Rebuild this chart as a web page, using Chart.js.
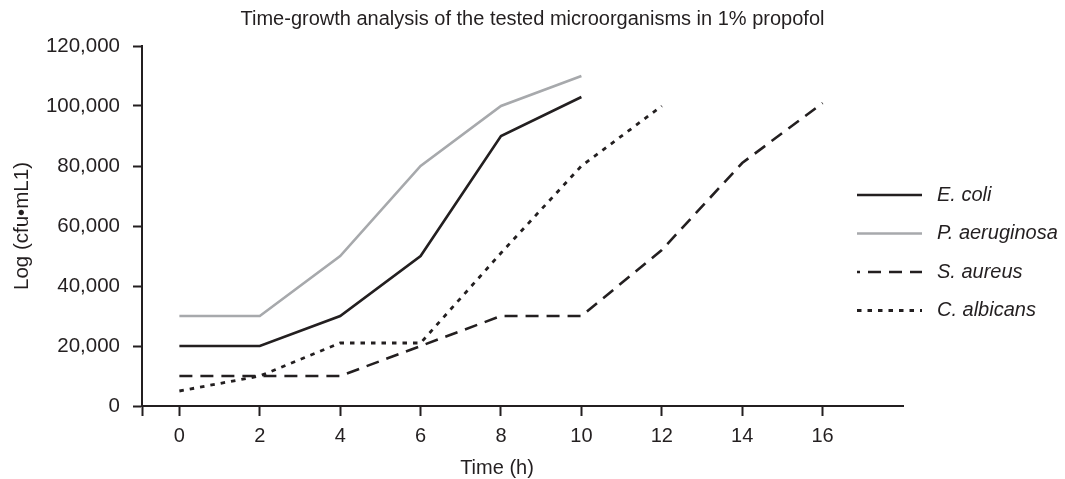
<!DOCTYPE html>
<html>
<head>
<meta charset="utf-8">
<script src="https://cdn.jsdelivr.net/npm/chart.js@4"></script>
<style>
  html, body { margin: 0; padding: 0; background: #ffffff; }
  #wrap { width: 1065px; height: 479px; position: relative; }
</style>
</head>
<body>
<div id="wrap"><canvas id="c"></canvas></div>
<script>
// ---- data ----
const chartTitle = 'Time-growth analysis of the tested microorganisms in 1% propofol';
const xAxisTitle = 'Time (h)';
const yAxisTitle = 'Log (cfu\u2022mL1)';
const timePoints = [0, 2, 4, 6, 8, 10, 12, 14, 16];
const seriesNames = ['E. coli', 'P. aeruginosa', 'S. aureus', 'C. albicans'];
const eColi = [20000, 20000, 30000, 50000, 90000, 103000];
const pAeruginosa = [30000, 30000, 50000, 80000, 100000, 110000];
const sAureus = [10000, 10000, 10000, 20000, 30000, 30000, 52000, 81000, 101000];
const cAlbicans = [5000, 10000, 21000, 21000, 51000, 80000, 100000];
const xTicks = [0, 2, 4, 6, 8, 10, 12, 14, 16];
const yTicks = [0, 20000, 40000, 60000, 80000, 100000, 120000];

const INK = '#231f20';
const GREY = '#a7a9ac';
const FONT = '"Liberation Sans", Arial, Helvetica, sans-serif';

function toPoints(values) {
  return values.map((v, i) => ({ x: timePoints[i], y: v }));
}

const styles = [
  { color: INK, dash: [], width: 2.6 },
  { color: GREY, dash: [], width: 2.6 },
  { color: INK, dash: [13, 8], width: 2.6 },
  { color: INK, dash: [4.5, 6], width: 2.8 }
];
const seriesValues = [eColi, pAeruginosa, sAureus, cAlbicans];

const datasets = seriesNames.map((name, i) => ({
  label: name,
  data: toPoints(seriesValues[i]),
  borderColor: styles[i].color,
  backgroundColor: styles[i].color,
  borderWidth: styles[i].width,
  borderDash: styles[i].dash,
  pointRadius: 0,
  tension: 0,
  fill: false,
  borderCapStyle: 'butt',
  borderJoinStyle: 'miter'
}));

const X_MIN = -0.93, X_MAX = 18;

const textPlugin = {
  id: 'texts',
  afterDraw(chart) {
    const ctx = chart.ctx;
    const xs = chart.scales.x, ys = chart.scales.y;
    ctx.save();
    ctx.fillStyle = INK;
    // title
    ctx.font = '20px ' + FONT;
    ctx.textAlign = 'center';
    ctx.textBaseline = 'middle';
    ctx.fillText(chartTitle, chart.width / 2, 19);
    // x title
    const xc = (xs.getPixelForValue(xTicks[0]) + xs.getPixelForValue(xTicks[xTicks.length - 1])) / 2 - 4;
    ctx.fillText(xAxisTitle, xc, 468);
    // y title
    ctx.save();
    ctx.font = '20.5px ' + FONT;
    ctx.translate(22, (ys.top + ys.bottom) / 2);
    ctx.rotate(-Math.PI / 2);
    ctx.fillText(yAxisTitle, 0, 0);
    ctx.restore();
    // legend
    chart.data.datasets.forEach((ds, i) => {
      const y = 195 + i * 38.5;
      ctx.save();
      ctx.strokeStyle = ds.borderColor;
      ctx.lineWidth = ds.borderWidth;
      ctx.setLineDash(ds.borderDash || []);
      if (i === 2) ctx.lineDashOffset = 10;
      ctx.beginPath();
      ctx.moveTo(857, y);
      ctx.lineTo(922, y);
      ctx.stroke();
      ctx.restore();
      ctx.font = 'italic 20px ' + FONT;
      ctx.textAlign = 'left';
      ctx.textBaseline = 'middle';
      ctx.fillStyle = INK;
      ctx.fillText(ds.label, 937, y);
    });
    ctx.restore();
  }
};

new Chart(document.getElementById('c'), {
  type: 'line',
  data: { datasets },
  options: {
    responsive: true,
    maintainAspectRatio: false,
    animation: false,
    devicePixelRatio: 1,
    layout: { padding: { top: 46, right: 162, bottom: 0, left: 0 } },
    plugins: { legend: { display: false }, title: { display: false }, tooltip: { enabled: false } },
    scales: {
      x: {
        type: 'linear',
        min: X_MIN,
        max: X_MAX,
        afterBuildTicks(scale) {
          scale.ticks = [{ value: X_MIN }].concat(xTicks.map(v => ({ value: v })));
        },
        afterFit(scale) { scale.height = 73; },
        border: { display: true, color: INK, width: 2 },
        grid: { drawOnChartArea: false, drawTicks: true, tickLength: 10, tickWidth: 2, color: INK },
        ticks: {
          autoSkip: false,
          maxRotation: 0,
          padding: 8,
          color: INK,
          font: { family: FONT, size: 20 },
          callback: (v) => (v < 0 ? '' : String(v))
        }
      },
      y: {
        type: 'linear',
        min: yTicks[0],
        max: yTicks[yTicks.length - 1],
        afterBuildTicks(scale) {
          scale.ticks = yTicks.map(v => ({ value: v }));
        },
        afterFit(scale) { scale.width = 142; },
        border: { display: true, color: INK, width: 2 },
        grid: { drawOnChartArea: false, drawTicks: true, tickLength: 9, tickWidth: 2, color: INK },
        ticks: {
          padding: 13,
          color: INK,
          font: { family: FONT, size: 20.5 },
          callback: (v) => Number(v).toLocaleString('en-US')
        }
      }
    }
  },
  plugins: [textPlugin]
});
</script>
</body>
</html>
